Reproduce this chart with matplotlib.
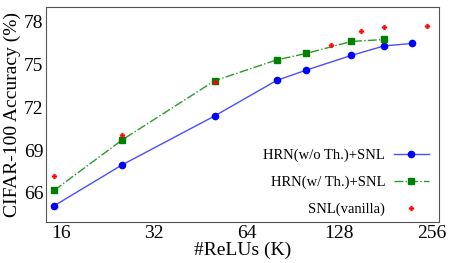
import matplotlib
matplotlib.use("Agg")
import matplotlib.pyplot as plt

plt.rcParams['font.family'] = ['Liberation Serif', 'DejaVu Serif']

# data
hrn_wo_x = [15.2, 25.3, 50.4, 80.2, 100, 140, 179, 220]
hrn_wo_y = [65.1, 67.98, 71.4, 73.9, 74.62, 75.65, 76.32, 76.49]
hrn_w_x = [15.2, 25.3, 50.4, 80.2, 100, 140, 179]
hrn_w_y = [66.18, 69.73, 73.87, 75.34, 75.79, 76.63, 76.77]
snl_x = [15.2, 25.3, 50.4, 120, 150, 179, 246]
snl_y = [67.19, 70.06, 73.76, 76.39, 77.37, 77.68, 77.72]
xticks = [16, 32, 64, 128, 256]
yticks = [66, 69, 72, 75, 78]

fig = plt.figure(figsize=(4.5, 2.63), dpi=100)
ax = fig.add_axes([46/450, 1-222/263, (439-46)/450, (222-7)/263])

ax.plot(hrn_wo_x, hrn_wo_y, '-', color='#4d4dff', lw=1.0, marker='o', ms=4.5,
        mfc='blue', mec='blue', label='HRN(w/o Th.)+SNL')
ax.plot(hrn_w_x, hrn_w_y, '-.', color='#2a9a2a', lw=1.0, marker='s', ms=4.2,
        mfc='green', mec='green', label='HRN(w/ Th.)+SNL')
ax.plot(snl_x, snl_y, linestyle='none', marker='P', ms=3.5, color='red',
        mew=0.3, label='SNL(vanilla)')

ax.set_xscale('log', base=2)
ax.set_xlim(14.3, 269.6)
ax.set_ylim(63.96, 79.05)
ax.set_xticks(xticks)
ax.set_xticklabels([str(t) for t in xticks])
ax.minorticks_off()
ax.set_yticks(yticks)
ax.tick_params(axis='both', labelsize=14, length=0, pad=2)
ax.set_xlabel('#ReLUs (K)', fontsize=14, labelpad=0)
ax.set_ylabel('CIFAR-100 Accuracy (%)', fontsize=14, labelpad=2)
for s in ax.spines.values():
    s.set_color('#555555')
    s.set_linewidth(0.8)

ax.legend(loc='lower right', frameon=False, markerfirst=False, fontsize=10.5,
          labelspacing=0.92, handlelength=2.4, handletextpad=0.6,
          borderaxespad=0.3, bbox_to_anchor=(1.0, -0.02))

fig.savefig('out.png', dpi=100)
